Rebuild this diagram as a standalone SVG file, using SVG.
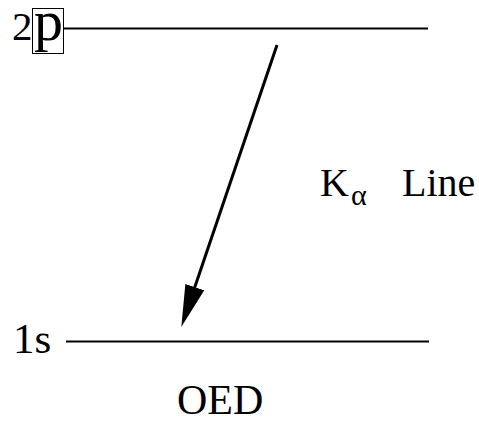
<svg xmlns="http://www.w3.org/2000/svg" width="479" height="421" viewBox="0 0 479 421">
<style>
text{font-family:'Liberation Serif','Times New Roman','DejaVu Serif',serif;fill:#000}
.lvl{stroke:#000;stroke-width:2;fill:none}
</style>
<defs>
<marker id="ah" markerUnits="userSpaceOnUse" markerWidth="44" markerHeight="22" refX="20" refY="10" orient="auto">
<path d="M0,0 L42,10 L0,20 z" fill="#000"/>
</marker>
</defs>
<rect width="479" height="421" fill="#fff"/>
<g id="level-2p">
<text font-family="Liberation Serif, serif" x="12" y="40" font-size="41">2</text>
<rect x="32.5" y="8.5" width="31" height="45" fill="none" stroke="#000" stroke-width="1"/>
<text font-family="Liberation Serif, serif" x="34" y="40" font-size="58">p</text>
<line class="lvl" x1="63" y1="28.5" x2="428" y2="28.5"/>
</g>
<g id="level-1s">
<text font-family="Liberation Serif, serif" x="13" y="353" font-size="43">1s</text>
<line class="lvl" x1="66" y1="341.5" x2="429" y2="341.5"/>
</g>
<g id="label-kalpha">
<text font-family="Liberation Serif, serif" x="320" y="196" font-size="40">K</text>
<text font-family="Liberation Serif, serif" x="351" y="205" font-size="30">α</text>
<text font-family="Liberation Serif, serif" x="402" y="196" font-size="40">Line</text>
</g>
<g id="label-oed">
<text font-family="Liberation Serif, serif" x="177" y="414" font-size="42">OED</text>
</g>
<g id="connectors">
<line x1="277" y1="45" x2="188.4" y2="306.1" stroke="#000" stroke-width="3" marker-end="url(#ah)"/>
</g>
</svg>
